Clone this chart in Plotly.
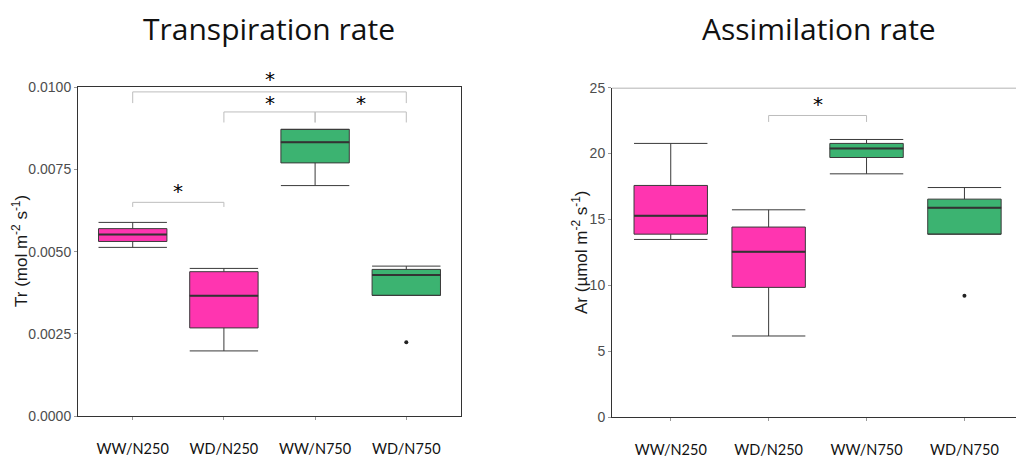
import plotly.graph_objects as go

# ---------------- data ----------------
categories = ["WW/N250", "WD/N250", "WW/N750", "WD/N750"]
box_colors = ["#FF35B0", "#FF35B0", "#3CB371", "#3CB371"]

# Transpiration rate (Tr)
tr_lower = [0.00513, 0.00198, 0.00701, 0.00367]
tr_q1 = [0.00531, 0.00268, 0.00770, 0.00367]
tr_median = [0.00552, 0.00366, 0.00833, 0.00429]
tr_q3 = [0.00570, 0.00439, 0.00872, 0.00446]
tr_upper = [0.00589, 0.00449, 0.00872, 0.00456]
tr_outlier_cat = ["WD/N750"]
tr_outlier_val = [0.00224]

# Assimilation rate (Ar)
ar_lower = [13.48, 6.15, 18.46, 13.88]
ar_q1 = [13.88, 9.84, 19.70, 13.88]
ar_median = [15.27, 12.54, 20.39, 15.88]
ar_q3 = [17.58, 14.42, 20.77, 16.54]
ar_upper = [20.77, 15.73, 21.07, 17.42]
ar_outlier_cat = ["WD/N750"]
ar_outlier_val = [9.20]

# significance brackets: (from, to, bracket height, tip bottom, star height)
tr_sig = [("WW/N250", "WD/N750", 0.00986, 0.00952, 0.01025),
          ("WD/N250", "WW/N750", 0.00925, 0.00893, 0.00952),
          ("WW/N750", "WD/N750", 0.00925, 0.00893, 0.00952),
          ("WW/N250", "WD/N250", 0.00650, 0.00636, 0.00686)]
ar_sig = [("WD/N250", "WW/N750", 22.89, 22.40, 23.77)]

W, H = 1016, 458
BOX_W = 0.75
fig = go.Figure()

TR_RANGE = [0, 0.0100]
AR_RANGE = [0, 25]
TR_DOM = [(H - 416) / H, (H - 87.3) / H]
AR_DOM = [(H - 417) / H, (H - 87.7) / H]


def px_x(p):
    return p / W


def px_y(p):
    return (H - p) / H


def idx(c):
    return categories.index(c)


def add_boxes(lo, q1, med, q3, up, xa, ya):
    for i, c in enumerate(categories):
        fig.add_trace(go.Box(
            x=[idx(c)], q1=[q1[i]], median=[med[i]], q3=[q3[i]],
            lowerfence=[lo[i]], upperfence=[up[i]],
            width=BOX_W, whiskerwidth=1, fillcolor=box_colors[i],
            line=dict(color="#3a3a3a", width=1), showlegend=False,
            hoverinfo="skip", xaxis=xa, yaxis=ya))
        # thicker median line, as in the reference
        fig.add_trace(go.Scatter(
            x=[idx(c) - BOX_W / 2, idx(c) + BOX_W / 2], y=[med[i], med[i]],
            mode="lines", line=dict(color="#333333", width=2),
            showlegend=False, hoverinfo="skip", xaxis=xa, yaxis=ya))


add_boxes(tr_lower, tr_q1, tr_median, tr_q3, tr_upper, "x", "y")
add_boxes(ar_lower, ar_q1, ar_median, ar_q3, ar_upper, "x2", "y2")

fig.add_trace(go.Scatter(x=[idx(c) for c in tr_outlier_cat], y=tr_outlier_val,
                         mode="markers", marker=dict(color="#222", size=4),
                         showlegend=False, xaxis="x", yaxis="y", hoverinfo="skip"))
fig.add_trace(go.Scatter(x=[idx(c) for c in ar_outlier_cat], y=ar_outlier_val,
                         mode="markers", marker=dict(color="#222", size=4),
                         showlegend=False, xaxis="x2", yaxis="y2", hoverinfo="skip"))


def add_brackets(sig, xref, yref, rng, dom):
    for a, b, h, tip, star in sig:
        xa = idx(a)
        xb = idx(b)
        fig.add_trace(go.Scatter(
            x=[xa, xa, xb, xb], y=[tip, h, h, tip], mode="lines",
            line=dict(color="#bdbdbd", width=1), showlegend=False,
            hoverinfo="skip", xaxis=xref, yaxis=yref, cliponaxis=False))
        # star placed in paper units (annotations outside the axis range are hidden)
        yp = dom[0] + (star - rng[0]) / (rng[1] - rng[0]) * (dom[1] - dom[0])
        fig.add_annotation(x=(xa + xb) / 2, y=yp, text="*",
                           showarrow=False, xref=xref, yref="paper",
                           xanchor="center", yanchor="middle",
                           font=dict(family="DejaVu Sans", size=20, color="#000000"))


tick_idx = list(range(len(categories)))

axis_common = dict(showgrid=False, zeroline=False, showline=True,
                   linecolor="#333333", linewidth=1, ticks="outside",
                   ticklen=3, tickcolor="#999999", automargin=False)

fig.update_layout(
    width=W, height=H, margin=dict(l=0, r=0, t=0, b=0, autoexpand=False),
    plot_bgcolor="white", paper_bgcolor="white",
    xaxis=dict(domain=[px_x(78), px_x(461)], range=[-0.6, 3.6],
               tickvals=tick_idx, ticktext=categories, mirror=True,
               tickfont=dict(family="Lato", size=14.5, color="#111"),
               ticklabelstandoff=17, anchor="y", **axis_common),
    yaxis=dict(domain=TR_DOM, range=TR_RANGE,
               tickvals=[0, 0.0025, 0.005, 0.0075, 0.01],
               ticktext=["0.0000", "0.0025", "0.0050", "0.0075", "0.0100"],
               mirror=True, anchor="x",
               tickfont=dict(family="Liberation Sans", size=14, color="#4d4d4d"),
               **axis_common),
    xaxis2=dict(domain=[px_x(612), 1.0], range=[-0.6, -0.6 + (W - 612) / 97.9],
                tickvals=tick_idx, ticktext=categories,
                tickfont=dict(family="Lato", size=14.5, color="#111"),
                ticklabelstandoff=17, anchor="y2", **axis_common),
    yaxis2=dict(domain=AR_DOM, range=AR_RANGE,
                tickvals=[0, 5, 10, 15, 20, 25], anchor="x2",
                tickfont=dict(family="Liberation Sans", size=14, color="#4d4d4d"),
                **axis_common),
)

add_brackets(tr_sig, "x", "y", TR_RANGE, TR_DOM)
add_brackets(ar_sig, "x2", "y2", AR_RANGE, AR_DOM)

# top border of right panel (its right border lies outside the picture)
fig.add_shape(type="line", xref="x2 domain", yref="y2", x0=0, x1=1, y0=25, y1=25,
              line=dict(color="#9a9a9a", width=1.5))

# titles
fig.add_annotation(x=px_x(269), y=px_y(28), xref="paper", yref="paper",
                   xanchor="center", yanchor="middle",
                   text="Transpiration rate", showarrow=False,
                   font=dict(family="Open Sans", size=30, color="#111"))
fig.add_annotation(x=px_x(819), y=px_y(28), xref="paper", yref="paper",
                   xanchor="center", yanchor="middle",
                   text="Assimilation rate", showarrow=False,
                   font=dict(family="Open Sans", size=30, color="#111"))

# y-axis titles
fig.add_annotation(x=px_x(20), y=px_y(251), xref="paper", yref="paper",
                   xanchor="center", yanchor="middle",
                   text="Tr (mol m<sup>-2</sup> s<sup>-1</sup>)", textangle=-90,
                   showarrow=False,
                   font=dict(family="Liberation Sans", size=17, color="#1a1a1a"))
fig.add_annotation(x=px_x(580), y=px_y(252), xref="paper", yref="paper",
                   xanchor="center", yanchor="middle",
                   text="Ar (µmol m<sup>-2</sup> s<sup>-1</sup>)", textangle=-90,
                   showarrow=False,
                   font=dict(family="Liberation Sans", size=17, color="#1a1a1a"))

fig.write_html("out.html", config={"displayModeBar": False},
               post_script="document.body.style.margin='0px';")
